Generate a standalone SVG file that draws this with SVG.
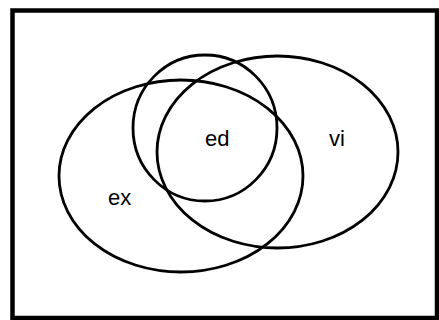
<svg xmlns="http://www.w3.org/2000/svg" width="439" height="320" viewBox="0 0 439 320">
<style>
.set{fill:none;stroke:#000;stroke-width:2.8}
.lbl{font-family:"Liberation Sans",Arial,sans-serif;font-size:22px;fill:#000}
</style>
<rect x="0" y="0" width="439" height="320" fill="#fff"/>
<rect id="frame" x="12.5" y="10.5" width="424.5" height="307.5" fill="none" stroke="#000" stroke-width="4.5"/>
<g id="ex">
<ellipse class="set" cx="181" cy="176" rx="122" ry="96"/>
<text class="lbl" x="108" y="205">ex</text>
</g>
<g id="vi">
<ellipse class="set" cx="277.5" cy="152" rx="120.5" ry="96"/>
<text class="lbl" x="329" y="146">vi</text>
</g>
<g id="ed">
<ellipse class="set" cx="205" cy="128" rx="72" ry="73"/>
<text class="lbl" x="205" y="146">ed</text>
</g>
<g id="connectors"></g>
</svg>
